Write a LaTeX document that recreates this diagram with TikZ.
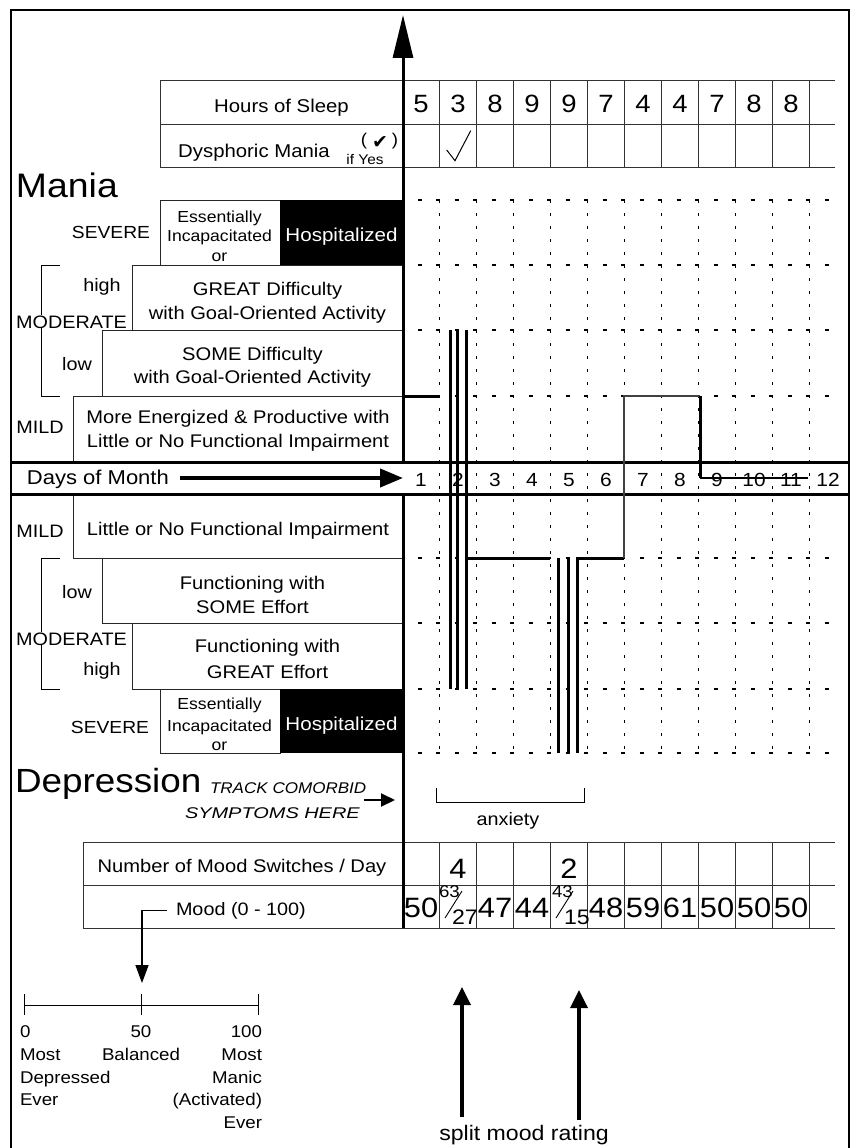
\documentclass[tikz,border=0pt]{standalone}
\usepackage{fontspec}
\setmainfont[FakeStretch=1.1]{Liberation Sans}
\newfontfamily\dejavu{DejaVu Sans}
\usetikzlibrary{arrows.meta}
\begin{document}
\begin{tikzpicture}[x=1pt,y=-1pt,
  every node/.style={inner sep=0pt,outer sep=0pt},
  txt/.style={font=\fontsize{#1}{#1}\selectfont,anchor=base},
  boxline/.style={draw=black!85,line width=1pt},
  tabline/.style={draw=black!80,line width=1pt},
  heavy/.style={line width=3pt},
  dashgrid/.style={line width=2pt,dash pattern=on 4pt off 14.5pt,dash phase=4pt},
  dotgrid/.style={line width=1.7pt,dash pattern=on 2.5pt off 10.5pt},
  plotline/.style={line width=3pt},
  plotthin/.style={line width=1.6pt,draw=black!75},
]
\useasboundingbox (0,0) rectangle (851,1148);
\fill[white] (0,0) rectangle (851,1148);
% frame (open at the bottom)
\draw[line width=2pt] (11,1149) -- (11,10) -- (849,10) -- (849,1149);

% grid
\foreach \k in {0,...,10}
  \draw[dotgrid] ({439.5+37*\k},200) -- ({439.5+37*\k},753);
\foreach \yy in {200,265,330,396,558,623,689,753}
  \draw[dashgrid] (403,\yy) -- (835,\yy);

% top table
\foreach \yy in {80,124,167} \draw[tabline] (160,\yy) -- (835,\yy);
\draw[tabline] (160,80) -- (160,167);
\foreach \k in {0,...,10} \draw[tabline] ({439.5+37*\k},80) -- ({439.5+37*\k},167);

% bottom table
\foreach \yy in {842,885,928} \draw[tabline] (83,\yy) -- (835,\yy);
\draw[tabline] (83,842) -- (83,928);
\foreach \k in {0,...,10} \draw[tabline] ({439.5+37*\k},842) -- ({439.5+37*\k},928);

% mania boxes
\draw[boxline] (160,200) rectangle (280,265);
\fill[black] (280,200) rectangle (403,265);
\draw[boxline] (132,265) rectangle (403,330);
\draw[boxline] (102,330) rectangle (403,396);
\draw[boxline] (73,396) rectangle (403,462);
% depression boxes
\draw[boxline] (73,494) rectangle (403,558);
\draw[boxline] (102,558) rectangle (403,623);
\draw[boxline] (132,623) rectangle (403,689);
\draw[boxline] (160,689) rectangle (280,753);
\fill[black] (280,689) rectangle (403,753);
% brackets
\draw[line width=1pt] (60,265) -- (41,265) -- (41,396) -- (60,396);
\draw[line width=1pt] (60,558) -- (41,558) -- (41,689) -- (60,689);

% texts top
\node[txt=18.5] (hours) at (281.5,112) {Hours of Sleep};
\node[txt=18.5] (dysph) at (254,157) {Dysphoric Mania};
\node[txt=17] (parL) at (364,145) {(};
\node[txt=19] (chk) at (380,148) {\dejavu ✔};
\node[txt=17] (parR) at (395,145) {)};
\node[txt=14] (ifyes) at (365,164) {if Yes};
\foreach \v [count=\i] in {5,3,8,9,9,7,4,4,7,8,8}
  \node[txt=25] (sl\i) at ({421+37*(\i-1)},112) {\v};
\draw[line width=1pt] (446.7,150) -- (455,160.7) -- (470.7,130.7);

\node[txt=34,anchor=base west] (mania) at (16,197) {Mania};
\node[txt=17.5] (msev) at (111,238) {SEVERE};
\node[txt=16] (mess) at (219.5,222) {Essentially};
\node[txt=16] (minc) at (219.5,241) {Incapacitated};
\node[txt=16] (mor) at (219.5,261) {or};
\node[txt=18.7,text=white] (mhosp) at (341.5,241) {Hospitalized};
\node[txt=18] (mhigh) at (102,291) {high};
\node[txt=18.3] (mgreat1) at (267.5,295) {GREAT Difficulty};
\node[txt=18.3] (mgreat2) at (267.5,319) {with Goal-Oriented Activity};
\node[txt=18,fill=white] (mmod) at (71.5,328) {MODERATE};
\node[txt=18] (mlow) at (77,370) {low};
\node[txt=18.3] (msome1) at (252.5,360) {SOME Difficulty};
\node[txt=18.3] (msome2) at (252.5,383) {with Goal-Oriented Activity};
\node[txt=18] (mmild) at (40,433) {MILD};
\node[txt=18.3] (mmild1) at (238,423) {More Energized \& Productive with};
\node[txt=18.3] (mmild2) at (238,447) {Little or No Functional Impairment};

\node[txt=20,anchor=base west] (days) at (27,484) {Days of Month};
\foreach \i in {1,...,12}
  \node[txt=19] (d\i) at ({421+37*(\i-1)},486) {\i};

\node[txt=18] (dmild) at (40,537) {MILD};
\node[txt=18.3] (dmild1) at (238,535) {Little or No Functional Impairment};
\node[txt=18] (dlow) at (77,598) {low};
\node[txt=18.3] (dsome1) at (252.5,589) {Functioning with};
\node[txt=18.3] (dsome2) at (252.5,613) {SOME Effort};
\node[txt=18,fill=white] (dmod) at (71.5,645) {MODERATE};
\node[txt=18] (dhigh) at (102,675) {high};
\node[txt=18.3] (dgreat1) at (267.5,652) {Functioning with};
\node[txt=18.3] (dgreat2) at (267.5,678) {GREAT Effort};
\node[txt=17.5] (dsev) at (110,733) {SEVERE};
\node[txt=16] (dess) at (219.5,709) {Essentially};
\node[txt=16] (dinc) at (219.5,731) {Incapacitated};
\node[txt=16] (dor) at (219.5,750) {or};
\node[txt=18.7,text=white] (dhosp) at (341.5,730) {Hospitalized};

\node[txt=33.5,anchor=base west] (depr) at (15,792) {Depression};
\node[txt=15.5,anchor=base west] (track1) at (210,793) {\itshape TRACK COMORBID};
\node[txt=15.5,anchor=base west] (track2) at (185,818) {\scalebox{1.17}[1]{\itshape SYMPTOMS HERE}};
\coordinate (trackA) at (364,800);
\coordinate (trackB) at (395,800);
\draw[line width=2pt,-{Triangle[length=14pt,width=13pt]}] (trackA) -- (trackB);

% anxiety
\draw[line width=1pt] (436,788) -- (436,802) -- (584,802) -- (584,788);
\node[txt=18] (anx) at (508,825) {anxiety};

% bottom table texts
\node[txt=18.3] (nswitch) at (242,872) {Number of Mood Switches / Day};
\node[txt=18,anchor=base west] (moodlbl) at (176,915) {Mood (0 - 100)};
\node[txt=28] (sw2) at (458,878) {4};
\node[txt=28] (sw5) at (569,878) {2};
\foreach \v/\i in {50/1,47/3,44/4,48/6,59/7,61/8,50/9,50/10,50/11}
  \node[txt=28] (mv\i) at ({421+37*(\i-1)},917) {\v};
\node[txt=17,anchor=base west] (f2a) at (439,897) {63};
\node[txt=21,anchor=base west] (f2b) at (452,924) {27};
\draw[line width=0.9pt] (445,918) -- (462,891);
\node[txt=17,anchor=base west] (f5a) at (552,897) {43};
\node[txt=21,anchor=base west] (f5b) at (564,924) {15};
\draw[line width=0.9pt] (556,918) -- (573,891);

% scale
\coordinate (scalemid) at (142,983);
\draw[line width=1.5pt,-{Triangle[length=18pt,width=13pt]}] ([xshift=-9pt]moodlbl.west) -| (scalemid);
\draw[line width=1pt] (24,1005) -- (258,1005);
\foreach \xx in {24,141,258} \draw[line width=1pt] (\xx,994) -- (\xx,1015);
\node[txt=17,anchor=base west] (s0) at (20,1037) {0};
\node[txt=17,anchor=base west] (smost) at (20,1060) {Most};
\node[txt=17,anchor=base west] (sdep) at (20,1083) {Depressed};
\node[txt=17,anchor=base west] (sever) at (20,1105) {Ever};
\node[txt=17] (s50) at (141,1037) {50};
\node[txt=17] (sbal) at (141,1060) {Balanced};
\node[txt=17,anchor=base east] (s100) at (262,1037) {100};
\node[txt=17,anchor=base east] (smost2) at (262,1060) {Most};
\node[txt=17,anchor=base east] (smanic) at (262,1083) {Manic};
\node[txt=17,anchor=base east] (sact) at (262,1105) {(Activated)};
\node[txt=17,anchor=base east] (sever2) at (262,1128) {Ever};

% split mood rating
\node[txt=21] (split) at (524,1140) {split mood rating};
\coordinate (sp1s) at (462,1117);
\coordinate (sp1t) at (462,987);
\coordinate (sp2s) at (579,1120);
\coordinate (sp2t) at (579,990);
\draw[line width=3.5pt,-{Triangle[length=18pt,width=17pt]}] (sp1s) -- (sp1t);
\draw[line width=3.5pt,-{Triangle[length=18pt,width=17pt]}] (sp2s) -- (sp2t);

% days row and axis
\draw[heavy] (12,462) -- (848,462);
\draw[heavy] (12,494) -- (848,494);
\coordinate (axtop) at (403,15);
\coordinate (axdays) at (403,462);
\coordinate (axlow) at (403,494);
\coordinate (axbot) at (403,928);
\draw[heavy,-{Triangle[length=43pt,width=20pt]}] (axdays) -- (axtop);
\draw[heavy] (axlow) -- (axbot);
\coordinate (daystail) at (180,478);
\coordinate (daystip) at (403,478);
\draw[line width=4pt,-{Triangle[length=23pt,width=18pt]}] (daystail) -- (daystip);

% mood plot
\draw[plotline] (403,396) -- (439,396);
\draw[plotline] (450,330) -- (450,689);
\draw[plotline] (457,330) -- (457,689);
\draw[plotline] (466,330) -- (466,689);
\draw[plotline] (466,558) -- (550,558);
\draw[plotline] (558,558) -- (558,753);
\draw[plotline] (568,558) -- (568,753);
\draw[plotline] (577,753) -- (577,558) -- (624,558);
\draw[plotthin] (624,558) -- (624,396) -- (700,396);
\draw[plotline] (700,396) -- (700,478);
\draw[line width=2pt] (700,478) -- (808,478);
\end{tikzpicture}
\end{document}
